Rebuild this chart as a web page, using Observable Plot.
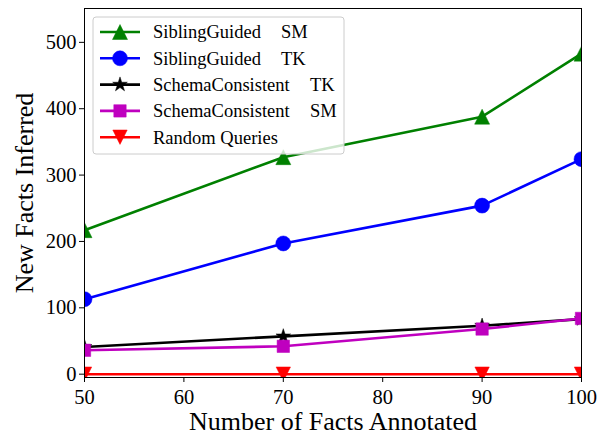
<!DOCTYPE html>
<html>
<head>
<meta charset="utf-8">
<script src="https://cdn.jsdelivr.net/npm/d3@7"></script>
<script src="https://cdn.jsdelivr.net/npm/@observablehq/plot@0.6"></script>
<style>
  html, body { margin: 0; padding: 0; background: #fff; }
  #chart { position: relative; width: 606px; height: 432px; }
</style>
</head>
<body>
<div id="chart"></div>
<script>
// ---- data ----
const factsAnnotated = [50, 70, 90, 100];
const siblingGuidedSM = [217, 327, 388, 483];
const siblingGuidedTK = [113, 197, 254, 324];
const schemaConsistentTK = [41, 57, 73, 83];
const schemaConsistentSM = [36, 42, 68, 84];
const randomQueries = [0, 0, 0, 0];
const seriesMethods = ["SiblingGuided", "SiblingGuided", "SchemaConsistent", "SchemaConsistent", "Random Queries"];
const seriesVariants = ["SM", "TK", "TK", "SM", ""];
const seriesColors = ["#008000", "#0000ff", "#000000", "#bf00bf", "#ff0000"];
const xTicks = [50, 60, 70, 80, 90, 100];
const yTicks = [0, 100, 200, 300, 400, 500];

// matplotlib-like symbols
const triUp = { draw(ctx, size) { const r = Math.sqrt(size / Math.PI); ctx.moveTo(0, -r); ctx.lineTo(r, r); ctx.lineTo(-r, r); ctx.closePath(); } };
const triDown = { draw(ctx, size) { const r = Math.sqrt(size / Math.PI); ctx.moveTo(0, r); ctx.lineTo(r, -r); ctx.lineTo(-r, -r); ctx.closePath(); } };
const seriesSymbols = [triUp, "circle", "star", "square", triDown];
const seriesR = [7.5, 7.5, 4.6, 7, 7.2];

const allValues = [siblingGuidedSM, siblingGuidedTK, schemaConsistentTK, schemaConsistentSM, randomQueries];
const data = [];
allValues.forEach((vals, i) => vals.forEach((v, j) => data.push({ series: i, x: factsAnnotated[j], y: v })));

const font = "'Liberation Serif', 'Times New Roman', serif";
const marks = [];
allValues.forEach((vals, i) => {
  const d = data.filter(p => p.series === i);
  marks.push(Plot.line(d, { x: "x", y: "y", stroke: seriesColors[i], strokeWidth: 2.6, clip: true }));
  marks.push(Plot.dot(d, { x: "x", y: "y", fill: seriesColors[i], stroke: seriesColors[i], strokeWidth: 0.5, symbol: seriesSymbols[i], r: seriesR[i], clip: true }));
});

const chart = Plot.plot({
  width: 606,
  height: 432,
  marginLeft: 84,
  marginRight: 25,
  marginTop: 8,
  marginBottom: 55,
  style: { fontFamily: font, fontSize: "20px", color: "#000", background: "#fff" },
  x: { domain: [50, 100] },
  y: { domain: [-5, 551] },
  marks: [
    ...marks,
    Plot.frame({ stroke: "#000", strokeWidth: 1 }),
    Plot.axisX({ ticks: xTicks, tickSize: 5, tickPadding: 7, label: null, tickFormat: d => String(d), fontSize: 20.5 }),
    Plot.axisY({ ticks: yTicks, tickSize: 5, tickPadding: 3, label: null, tickFormat: d => String(d), fontSize: 20.5 }),
    Plot.text(["Number of Facts Annotated"], { frameAnchor: "bottom", lineAnchor: "middle", textAnchor: "middle", dy: 44, fontSize: 26, fill: "#000" }),
    Plot.text(["New Facts Inferred"], { frameAnchor: "left", lineAnchor: "middle", textAnchor: "middle", dx: -60, rotate: -90, fontSize: 26, fill: "#000" })
  ]
});
document.getElementById("chart").appendChild(chart);

// legend (inside axes, upper left)
const variantOffset = [188, 188, 217, 217, 0];
const svg = d3.select(chart);
const lg = svg.append("g").attr("transform", "translate(93,17)");
lg.append("rect").attr("x", 0).attr("y", 0).attr("width", 251).attr("height", 137).attr("rx", 3)
  .attr("fill", "#fff").attr("fill-opacity", 0.8).attr("stroke", "#ccc").attr("stroke-width", 1);
seriesMethods.forEach((name, i) => {
  const cy = 15 + i * 26.3;
  const g = lg.append("g").attr("transform", `translate(0,${cy})`);
  g.append("line").attr("x1", 7).attr("x2", 47).attr("y1", 0).attr("y2", 0)
    .attr("stroke", seriesColors[i]).attr("stroke-width", 2.6);
  const sym = seriesSymbols[i];
  const symType = typeof sym === "string" ? (sym === "circle" ? d3.symbolCircle : sym === "star" ? d3.symbolStar : d3.symbolSquare) : sym;
  const r = seriesR[i];
  g.append("path").attr("transform", "translate(27,0)")
    .attr("d", d3.symbol(symType, r * r * Math.PI)())
    .attr("fill", seriesColors[i]).attr("stroke", seriesColors[i]).attr("stroke-width", 0.5);
  g.append("text").attr("x", 60).attr("y", 0).attr("dy", "0.35em")
    .attr("text-anchor", "start")
    .attr("font-family", font).attr("font-size", 18.5).attr("fill", "#000").text(name);
  if (seriesVariants[i]) {
    g.append("text").attr("x", variantOffset[i]).attr("y", 0).attr("dy", "0.35em")
      .attr("text-anchor", "start")
      .attr("font-family", font).attr("font-size", 18.5).attr("fill", "#000").text(seriesVariants[i]);
  }
});
</script>
</body>
</html>
